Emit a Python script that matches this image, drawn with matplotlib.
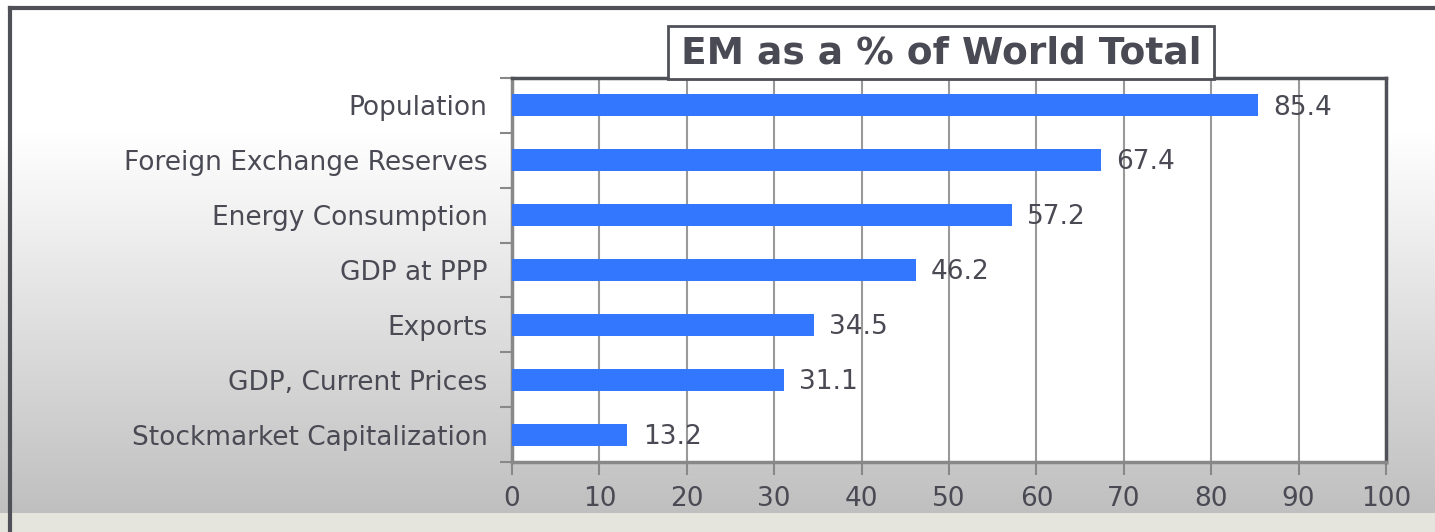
import numpy as np
import matplotlib.pyplot as plt
from matplotlib.patches import Rectangle
from matplotlib.lines import Line2D

categories = ['Stockmarket Capitalization', 'GDP, Current Prices', 'Exports',
              'GDP at PPP', 'Energy Consumption', 'Foreign Exchange Reserves',
              'Population']
values = [13.2, 31.1, 34.5, 46.2, 57.2, 67.4, 85.4]
xticks = list(range(0, 101, 10))

text_color = '#4a4a54'
dark = '#505058'
bar_color = '#3377ff'

fig = plt.figure(figsize=(14.35, 5.32), dpi=100)

# background gradient: white at top, grey towards the bottom, pale strip at the foot
bg = fig.add_axes([0, 0, 1, 1], zorder=-10)
rows = np.linspace(0, 1, 532)
shade = np.ones_like(rows)
ramp = (rows > 0.25) & (rows < 0.965)
shade[ramp] = 1.0 - (rows[ramp] - 0.25) / (0.965 - 0.25) * 0.25
shade[rows >= 0.965] = 0.90
img = np.dstack([shade, shade, shade * np.where(rows >= 0.965, 0.97, 1.0)])
img = img.reshape(532, 1, 3)
bg.imshow(img, aspect='auto', extent=[0, 1, 0, 1])
bg.set_axis_off()

# outer frame (top and left edges)
fig.add_artist(Line2D([10 / 1435, 1], [1 - 8 / 532, 1 - 8 / 532],
                      color=dark, lw=3, transform=fig.transFigure))
fig.add_artist(Line2D([10 / 1435, 10 / 1435], [0, 1 - 8 / 532],
                      color=dark, lw=3, transform=fig.transFigure))

ax = fig.add_axes([512 / 1435, 1 - 462 / 532, 874 / 1435, 384 / 532])
ax.set_facecolor('white')
y = np.arange(len(categories))
ax.barh(y, values, height=0.4, color=bar_color, zorder=3)
for yi, v in zip(y, values):
    ax.annotate(f'{v:.1f}', (v, yi), xytext=(11, -1.5), textcoords='offset points',
                va='center', ha='left', fontsize=19, color=text_color, zorder=4)

ax.set_xlim(0, 100)
ax.set_ylim(-0.5, len(categories) - 0.5)
ax.set_xticks(xticks)
ax.set_xticklabels([str(t) for t in xticks], fontsize=19, color=text_color)
ax.set_yticks(y)
ax.set_yticklabels(categories, fontsize=19, color=text_color)
ax.set_yticks(np.arange(-0.5, len(categories)), minor=True)
ax.tick_params(axis='y', which='major', length=0, pad=17.5)
ax.tick_params(axis='y', which='minor', length=9, width=1.5, color='#888888')
ax.tick_params(axis='x', length=9, width=1.5, color='#888888', pad=8)
ax.grid(axis='x', color='#999999', lw=1.5, zorder=0)
ax.set_axisbelow(True)
for side in ['top', 'right']:
    ax.spines[side].set_color(dark)
    ax.spines[side].set_linewidth(2.5)
for side in ['left', 'bottom']:
    ax.spines[side].set_color('#888888')
    ax.spines[side].set_linewidth(2.5)

# boxed title
fig.add_artist(Rectangle((668 / 1435, 1 - 79 / 532), 546 / 1435, 53 / 532,
                         facecolor='white', edgecolor=dark, lw=2,
                         transform=fig.transFigure, zorder=5))
fig.text(941 / 1435, 1 - 54 / 532, 'EM as a % of World Total', ha='center',
         va='center', fontsize=27, fontweight='bold', color=text_color, zorder=6)

fig.savefig('out.png', dpi=100)
